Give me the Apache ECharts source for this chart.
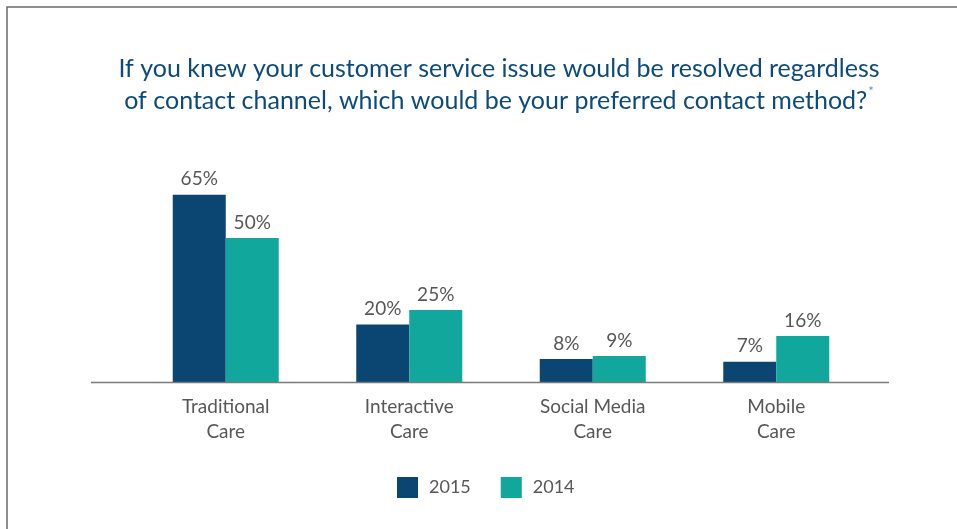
<!DOCTYPE html>
<html>
<head>
<meta charset="utf-8">
<script src="https://cdn.jsdelivr.net/npm/echarts@6/dist/echarts.min.js"></script>
<style>
  html, body { margin: 0; padding: 0; background: #ffffff; }
  #chart { width: 957px; height: 529px; }
</style>
</head>
<body>
<div id="chart"></div>
<script>
// Preferred contact channel, survey results by year (percent)
const categories = ['Traditional\nCare', 'Interactive\nCare', 'Social Media\nCare', 'Mobile\nCare'];
const seriesNames = ['2015', '2014'];
const values2015 = [65, 20, 8, 7];
const values2014 = [50, 25, 9, 16];

const navy = '#0b4672';
const teal = '#12a79c';
const textGray = '#575757';
const fontFamily = 'Lato, "Open Sans", sans-serif';

const chart = echarts.init(document.getElementById('chart'));

const labelStyle = {
  show: true,
  position: 'top',
  distance: 6,
  color: textGray,
  fontSize: 19,
  fontFamily: fontFamily,
  formatter: p => p.value + '%'
};

chart.setOption({
  animation: false,
  backgroundColor: '#ffffff',
  title: {
    text: '{t|If you knew your customer service issue would be resolved regardless}\n{t|of contact channel, which would be your preferred contact method?}{s|*}',
    left: 494,
    textAlign: 'center',
    top: 48,
    textStyle: {
      fontWeight: 'normal',
      rich: {
        t: { fontSize: 25, fontWeight: 'normal', fontFamily: fontFamily, color: '#0d4a7c', lineHeight: 32 },
        s: { fontSize: 13, fontWeight: 'normal', fontFamily: fontFamily, color: '#5a95c2', verticalAlign: 'top', lineHeight: 32, padding: [0, 0, 14, 1] }
      }
    }
  },
  legend: {
    data: seriesNames,
    left: 392,
    top: 472,
    itemWidth: 21,
    itemHeight: 21,
    itemGap: 30,
    icon: 'rect',
    textStyle: { color: textGray, fontSize: 18, fontFamily: fontFamily, padding: [0, 0, 0, 6] }
  },
  grid: { left: 134, right: 89, top: 94, bottom: 147 },
  xAxis: {
    type: 'category',
    data: categories,
    axisLine: { show: false },
    axisTick: { show: false },
    axisLabel: {
      color: textGray,
      fontSize: 19,
      fontFamily: fontFamily,
      lineHeight: 25,
      margin: 12,
      interval: 0
    }
  },
  yAxis: {
    type: 'value',
    min: 0,
    max: 100,
    show: false,
    splitLine: { show: false }
  },
  series: [
    {
      name: seriesNames[0],
      type: 'bar',
      data: values2015,
      barWidth: 53,
      barGap: '0%',
      itemStyle: { color: navy },
      label: labelStyle
    },
    {
      name: seriesNames[1],
      type: 'bar',
      data: values2014,
      barWidth: 53,
      barGap: '0%',
      itemStyle: { color: teal },
      label: labelStyle
    }
  ],
  graphic: [
    {
      // frame along the top and left edges
      type: 'polyline',
      shape: { points: [[7, 529], [7, 7], [957, 7]] },
      style: { stroke: '#6a6a6a', lineWidth: 1.5, fill: null },
      silent: true
    },
    {
      // baseline under the bars
      type: 'line',
      shape: { x1: 91, y1: 382.5, x2: 889, y2: 382.5 },
      style: { stroke: '#7a7a7a', lineWidth: 1.5 },
      silent: true,
      z: 10
    }
  ]
});
</script>
</body>
</html>
